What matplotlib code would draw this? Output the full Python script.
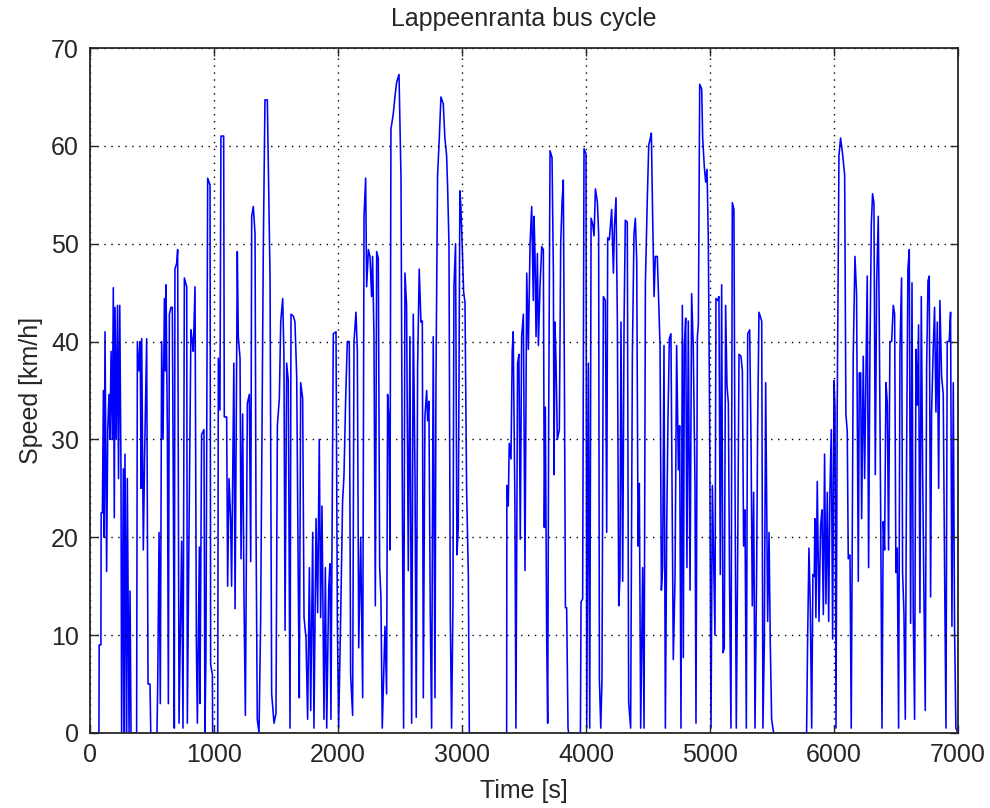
import matplotlib
matplotlib.use("Agg")
import matplotlib.pyplot as plt

# speed trace, turning points only (time [s], speed [km/h])
time_s = [
    0, 72, 74, 88, 90, 100, 108, 114, 121, 134, 143, 153, 161, 170, 180, 188, 196, 202, 212, 222,
    230, 240, 250, 255, 269, 277, 282, 296, 301, 315, 323, 331, 376, 382, 395, 405, 412, 417, 430, 440,
    457, 468, 484, 490, 540, 546, 557, 567, 578, 589, 600, 608, 613, 624, 632, 640, 653, 664, 675, 680,
    685, 699, 707, 718, 728, 739, 750, 761, 780, 785, 798, 814, 825, 833, 847, 858, 866, 882, 887, 900,
    919, 927, 935, 949, 968, 973, 987, 989, 1030, 1035, 1048, 1056, 1078, 1083, 1102, 1110, 1121, 1134, 1142,
    1160, 1170, 1188, 1196, 1210, 1218, 1231, 1242, 1253, 1269, 1285, 1296, 1304, 1317, 1331, 1339, 1349,
    1363, 1376, 1398, 1411, 1430, 1438, 1452, 1465, 1484, 1500, 1511, 1527, 1538, 1554, 1564, 1573, 1586,
    1599, 1613, 1621, 1640, 1653, 1667, 1680, 1688, 1699, 1715, 1726, 1742, 1755, 1769, 1780, 1796, 1806,
    1823, 1836, 1849, 1860, 1871, 1887, 1898, 1909, 1925, 1935, 1943, 1962, 1984, 1995, 2005, 2021, 2037,
    2048, 2062, 2075, 2091, 2102, 2118, 2129, 2145, 2156, 2167, 2183, 2199, 2210, 2223, 2231, 2245, 2258,
    2271, 2279, 2290, 2301, 2312, 2325, 2336, 2346, 2357, 2379, 2392, 2400, 2411, 2419, 2427, 2446, 2459,
    2473, 2492, 2508, 2518, 2529, 2540, 2553, 2567, 2580, 2594, 2607, 2621, 2631, 2642, 2655, 2669, 2680,
    2688, 2701, 2715, 2723, 2733, 2744, 2755, 2768, 2782, 2790, 2803, 2817, 2830, 2849, 2862, 2876, 2884,
    2895, 2906, 2916, 2927, 2935, 2948, 2959, 2970, 2983, 2991, 3002, 3013, 3024, 3037, 3051, 3059, 3360,
    3362, 3373, 3381, 3395, 3405, 3413, 3427, 3435, 3448, 3459, 3470, 3481, 3495, 3508, 3522, 3535, 3549,
    3562, 3575, 3581, 3589, 3597, 3608, 3616, 3629, 3643, 3656, 3664, 3672, 3683, 3691, 3699, 3710, 3726,
    3737, 3742, 3750, 3758, 3769, 3785, 3796, 3807, 3817, 3826, 3834, 3844, 3855, 3860, 3955, 3960, 3973,
    3984, 4000, 4006, 4019, 4030, 4041, 4054, 4065, 4076, 4092, 4102, 4108, 4119, 4129, 4140, 4156, 4167,
    4175, 4188, 4207, 4221, 4229, 4242, 4253, 4264, 4274, 4282, 4296, 4307, 4317, 4333, 4344, 4360, 4374,
    4387, 4398, 4409, 4420, 4430, 4441, 4457, 4468, 4479, 4495, 4506, 4516, 4527, 4538, 4549, 4559, 4575,
    4584, 4597, 4608, 4618, 4629, 4640, 4651, 4661, 4672, 4685, 4704, 4718, 4731, 4745, 4755, 4766, 4777,
    4785, 4793, 4804, 4814, 4825, 4839, 4852, 4865, 4879, 4887, 4898, 4906, 4917, 4933, 4941, 4954, 4965,
    4976, 4986, 4997, 5008, 5019, 5029, 5040, 5048, 5062, 5072, 5083, 5094, 5105, 5115, 5126, 5137, 5148,
    5158, 5169, 5180, 5193, 5202, 5212, 5223, 5234, 5250, 5261, 5271, 5282, 5293, 5304, 5320, 5331, 5341,
    5352, 5363, 5376, 5384, 5395, 5417, 5427, 5438, 5449, 5465, 5476, 5486, 5497, 5513, 5779, 5787, 5798,
    5809, 5820, 5830, 5841, 5846, 5854, 5865, 5879, 5892, 5903, 5914, 5924, 5935, 5946, 5957, 5967, 5978,
    5989, 6000, 6008, 6016, 6026, 6040, 6053, 6069, 6086, 6096, 6107, 6115, 6129, 6139, 6155, 6169, 6182,
    6196, 6204, 6215, 6223, 6236, 6247, 6258, 6268, 6279, 6290, 6301, 6311, 6322, 6333, 6344, 6357, 6365,
    6376, 6387, 6397, 6408, 6419, 6430, 6440, 6451, 6465, 6478, 6489, 6499, 6510, 6521, 6532, 6545, 6553,
    6564, 6575, 6586, 6596, 6607, 6618, 6629, 6639, 6650, 6661, 6672, 6682, 6693, 6704, 6715, 6725, 6736,
    6747, 6758, 6768, 6779, 6787, 6801, 6811, 6822, 6833, 6844, 6854, 6868, 6881, 6892, 6903, 6913, 6929,
    6940, 6951, 6962, 6972, 6983, 7000,
]
speed_kmh = [
    0, 0, 9, 9, 22.5, 22.5, 35, 20, 41, 16.5, 31, 34.6, 30, 39, 30, 45.5, 22, 43.5, 30, 43.7,
    26, 43.7, 26.5, 0, 27, 0, 28.5, 0, 26, 0, 14.5, 0, 0, 40, 37, 40, 25, 40.3, 18.7, 28,
    40.3, 5, 5, 0, 0, 5, 20.5, 3, 40, 30, 44.4, 37, 45.8, 31, 3, 42.8, 43.5, 43.5, 17, 0.5,
    47.4, 48, 49.4, 1, 10, 19.6, 0.5, 46.5, 45.6, 1, 20, 41.2, 40, 39, 45.6, 9, 1, 19, 3, 30.5,
    31, 0, 8, 56.7, 56, 7, 6, 0, 0, 38.3, 33, 61, 61, 32.3, 32.3, 15, 26, 21.9, 15,
    37.8, 12.7, 49.2, 40.5, 38.3, 17.8, 32.6, 13.7, 1.8, 33.7, 34.6, 17.5, 52.8, 53.8, 51, 21, 1.4,
    0, 11.4, 50, 64.7, 64.7, 58.3, 46.5, 4, 1, 2, 31.4, 34.2, 42, 44.4, 38.7, 10.5, 37.8,
    36, 0.5, 42.8, 42.6, 42, 36.4, 15, 3.6, 35.8, 34.2, 11.8, 9.7, 1.4, 16.9, 2.3, 20.5, 0.5,
    21.9, 12.3, 30, 11.8, 23.2, 1.4, 16.9, 0.5, 14.8, 17.3, 1.4, 40.8, 41, 11.4, 0.5, 11.4, 23.7,
    26.2, 34.2, 40, 40, 5.9, 1.8, 40, 43, 39, 8.7, 20, 3.6, 52.8, 56.7, 45.6, 49.4, 48.7,
    44.6, 48.7, 40.5, 13, 49.2, 48.5, 17, 13.9, 0.5, 10.9, 4, 34.6, 32, 18.7, 61.7, 63.3, 65,
    66.5, 67.3, 56.7, 26.9, 0.5, 47, 43.7, 16.6, 40.5, 1, 42.8, 26.4, 1.6, 37.4, 47.4, 42, 42.1,
    3.6, 32.3, 35, 31.9, 33.9, 12.3, 0.5, 40.5, 3.6, 35.8, 57, 60.8, 65, 64.3, 60.8, 59, 55.8,
    49.9, 11.4, 0.5, 13.2, 45.6, 50, 18.2, 21, 55.4, 53.8, 49.7, 45.1, 44, 25, 16.2, 0, 0,
    25.3, 23.2, 29.6, 28, 39, 41, 22.8, 0.5, 37.8, 38.7, 19.8, 40.5, 42.8, 16.6, 47, 39.2, 50,
    53.8, 44.2, 52.8, 48.7, 40.5, 49, 39.6, 45.6, 49.7, 49.4, 21, 33.3, 9.6, 1, 31.9, 59.5, 58.8,
    47, 26.4, 42, 38, 30, 31, 50, 54.3, 56.5, 36, 12.8, 12.8, 0.5, 0, 0, 13.4, 13.7,
    59.7, 59.2, 0.5, 37.8, 0.5, 52.6, 52, 50.8, 55.6, 54.2, 51, 5.5, 0.5, 5.5, 44.6, 44.2, 20.5,
    50.6, 50.4, 53.5, 47, 51.7, 54.7, 42, 13, 15.9, 42, 15.5, 42, 52.4, 52.2, 3.2, 0.5, 38.7,
    51, 52.6, 48.3, 19.1, 25.5, 0.5, 16.9, 0.5, 46, 54.9, 60.1, 60.6, 61.3, 52.4, 44.6, 48.7, 48.7,
    45.1, 39.6, 14.6, 16.9, 39.6, 0.5, 21, 31.9, 40.3, 40.8, 7.5, 15.9, 39.6, 26.9, 31.4, 0.5, 43.7,
    7.7, 39.6, 42.4, 16.9, 42.1, 14.6, 44.9, 39.4, 25.5, 1, 40.5, 41.7, 66.3, 65.8, 60.8, 57.9, 56.3,
    57.6, 50.8, 32.3, 0.5, 25.3, 17.8, 10, 44.4, 44.2, 44.6, 16.2, 45.8, 8.2, 8.7, 43.7, 35.5, 33.7,
    15, 0.5, 54.2, 53.5, 25, 0.5, 17.8, 38.7, 38.5, 37, 19.1, 22.8, 0.5, 40.8, 41.2, 29.6, 13,
    24.6, 0.5, 16.4, 31, 43, 42.1, 0.5, 9.1, 35.8, 11.4, 20.5, 9.3, 1.4, 0, 0, 9.3, 18.9,
    12.8, 0.5, 16.2, 16, 21.9, 11.8, 25.7, 11.4, 21.2, 22.8, 12.1, 28.5, 13.2, 24.6, 11.4, 24.6, 31,
    9.6, 36, 33.3, 0.5, 33.3, 59, 60.8, 59.2, 57, 32.6, 30.8, 17.8, 18.2, 0.5, 38.5, 48.7, 44.9,
    15.5, 36.8, 36.8, 21.9, 38.5, 26, 36.9, 46.7, 16.9, 39.2, 52, 55.1, 54.2, 26.4, 46, 52.8, 42,
    23.2, 0.5, 21.6, 18.7, 35.8, 33.7, 18.7, 40, 40, 43.7, 42.8, 16.4, 18.9, 0.5, 39.2, 46.5, 16.4,
    12.3, 1.4, 29.4, 47.4, 49.4, 11.2, 46, 12.3, 1.4, 39.2, 33.5, 41.7, 12.3, 44.6, 26.6, 14.4, 2.3,
    37.4, 46.2, 46.7, 13.9, 32.8, 39.6, 43.5, 32.8, 42, 25, 44.2, 36.4, 34.6, 16.4, 0.5, 40, 40,
    43, 10.9, 35.8, 10.9, 0.5, 0,
]

x_ticks = [0, 1000, 2000, 3000, 4000, 5000, 6000, 7000]
y_ticks = [0, 10, 20, 30, 40, 50, 60, 70]

plt.rcParams['font.family'] = ['Liberation Sans', 'DejaVu Sans']
plt.rcParams['font.size'] = 18

fig = plt.figure(figsize=(9.9, 8.08), dpi=100)
ax = fig.add_axes([90 / 990, 75 / 808, 868 / 990, 685 / 808])

ax.plot(time_s, speed_kmh, color='#0000ff', linewidth=1.15, zorder=1.5)

ax.set_xlim(0, 7000)
ax.set_ylim(0, 70)
ax.set_xticks(x_ticks)
ax.set_yticks(y_ticks)
ax.tick_params(direction='in', length=6, width=1, top=True, right=True,
               colors='#262626', labelcolor='#262626', labelsize=18)
ax.tick_params(axis='x', pad=7)
ax.tick_params(axis='y', pad=8)
ax.grid(True, color='black', linestyle=(0, (1, 4)), linewidth=1.0)
for s in ax.spines.values():
    s.set_linewidth(1.3)
    s.set_color('#262626')
    s.set_zorder(3)

ax.set_title('Lappeenranta bus cycle', fontsize=18, pad=16, color='#262626')
ax.set_xlabel('Time [s]', fontsize=18, labelpad=9, color='#262626')
ax.set_ylabel('Speed [km/h]', fontsize=18, labelpad=6, color='#262626')

fig.savefig('out.png', dpi=100)
